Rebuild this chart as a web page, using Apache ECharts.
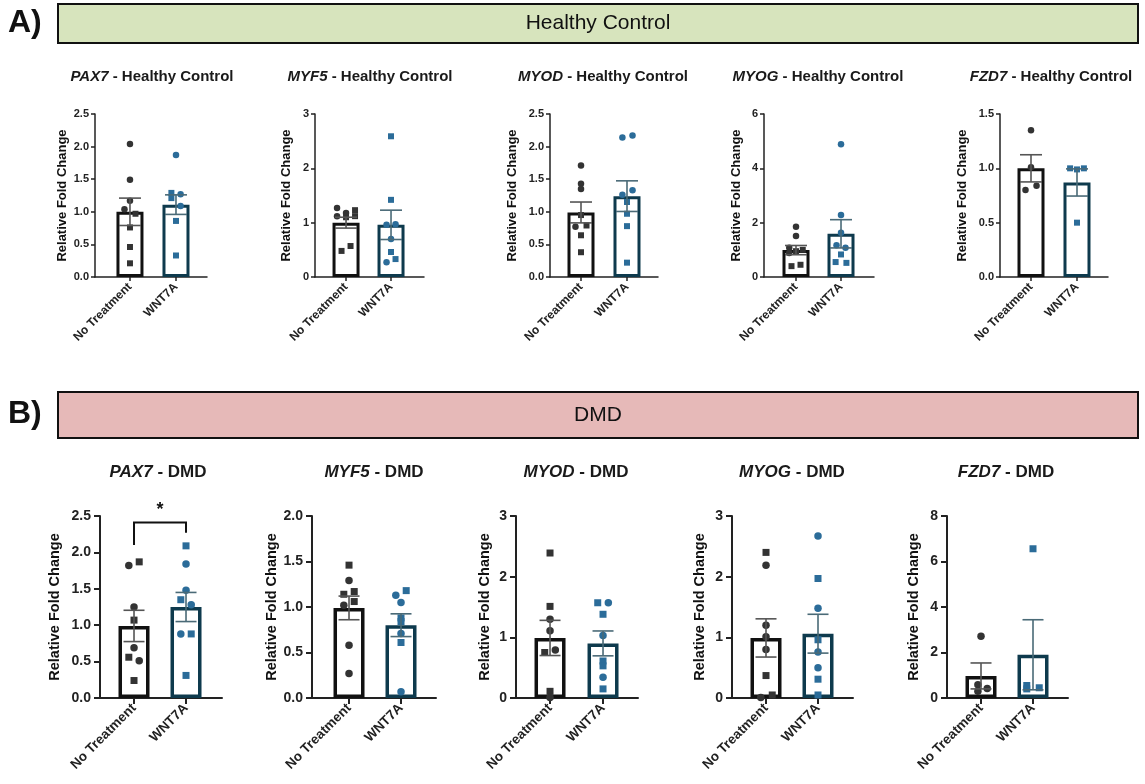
<!DOCTYPE html>
<html><head><meta charset="utf-8">
<script src="https://cdn.jsdelivr.net/npm/echarts@6/dist/echarts.min.js"></script>
<style>html,body{margin:0;padding:0;background:#fff}#c{width:1145px;height:784px}</style>
</head><body><div id="c"></div>
<script>
// ---------------- DATA ----------------
const categories = ['No Treatment', 'WNT7A'];
const genes = ['PAX7', 'MYF5', 'MYOD', 'MYOG', 'FZD7'];
const conditions = ['Healthy Control', 'DMD'];
const sectionLabels = ['A)', 'B)'];

// bar heights (mean) and SEM per gene: [No Treatment, WNT7A]
const hcMean  = [[1.00, 1.11], [1.00, 0.96], [0.99, 1.24], [0.99, 1.59], [1.00, 0.87]];
const hcSem   = [[0.21, 0.15], [0.10, 0.27], [0.16, 0.235], [0.17, 0.52], [0.125, 0.125]];
const dmdMean = [[0.99, 1.25], [0.99, 0.80], [0.99, 0.90], [0.99, 1.06], [0.97, 1.90]];
const dmdSem  = [[0.215, 0.20], [0.13, 0.125], [0.29, 0.205], [0.315, 0.32], [0.57, 1.54]];

// individual replicates per gene
const hcNoTreatment = [
  [2.04, 1.49, 1.17, 1.04, 0.97, 0.76, 0.46, 0.21],
  [1.27, 1.23, 1.18, 1.12, 1.12, 1.10, 0.57, 0.48],
  [1.71, 1.43, 1.35, 0.95, 0.77, 0.79, 0.64, 0.38],
  [1.85, 1.51, 1.08, 1.00, 0.95, 0.88, 0.45, 0.40],
  [1.35, 1.01, 0.84, 0.80]
];
const hcWnt7a = [
  [1.87, 1.29, 1.27, 1.21, 1.09, 0.86, 0.33],
  [2.59, 1.42, 0.97, 0.96, 0.70, 0.46, 0.33, 0.27],
  [2.17, 2.14, 1.33, 1.26, 1.15, 0.97, 0.78, 0.22],
  [4.89, 2.28, 1.63, 1.17, 1.08, 0.83, 0.55, 0.52],
  [1.00, 0.99, 1.00, 0.50]
];
const dmdNoTreatment = [
  [1.82, 1.87, 1.25, 1.07, 0.69, 0.56, 0.51, 0.24],
  [1.46, 1.29, 1.17, 1.14, 1.06, 1.02, 0.58, 0.27],
  [2.39, 1.51, 1.30, 1.11, 0.79, 0.75, 0.11, 0.01],
  [2.40, 2.19, 1.20, 1.01, 0.80, 0.37, 0.05, 0.01],
  [2.71, 0.58, 0.42, 0.30]
];
const dmdWnt7a = [
  [2.09, 1.84, 1.48, 1.35, 1.28, 0.88, 0.88, 0.31],
  [1.18, 1.13, 1.05, 0.88, 0.84, 0.71, 0.61, 0.07],
  [1.57, 1.57, 1.38, 1.03, 0.61, 0.53, 0.34, 0.15],
  [2.67, 1.97, 1.48, 0.96, 0.76, 0.50, 0.31, 0.05],
  [6.56, 0.55, 0.40, 0.45]
];
// marker shape per replicate: c = circle, s = square
const hcNoTreatmentShape  = ['ccccssss', 'csccssss', 'cccscsss', 'cccsscss', 'cccc'];
const hcWnt7aShape        = ['cscscss', 'sscccssc', 'ccccssss', 'cccccsss', 'ssss'];
const dmdNoTreatmentShape = ['cscscscs', 'scsssccc', 'sscccssc', 'sccccssc', 'cccc'];
const dmdWnt7aShape       = ['sccsccss', 'sccsscsc', 'scscsscs', 'cscsccss', 'ssss'];
// horizontal scatter (jitter) of replicates, in category units
const hcNoTreatmentJitter = [
  [0, 0, 0, -0.12, 0.12, 0, 0, 0], [-0.2, 0.2, 0, -0.2, 0.2, 0, 0.1, -0.1],
  [0, 0, 0, 0, -0.12, 0.12, 0, 0], [0, 0, -0.15, 0.15, 0, -0.15, 0.1, -0.1], [0, 0, 0.12, -0.12]
];
const hcWnt7aJitter = [
  [0, -0.1, 0.1, -0.1, 0.1, 0, 0], [0, 0, 0.1, -0.1, 0, 0, 0.1, -0.1],
  [0.12, -0.1, 0.12, -0.1, 0, 0, 0, 0], [0, 0, 0, -0.1, 0.1, 0, -0.12, 0.12], [-0.15, 0, 0.15, 0]
];
const dmdNoTreatmentJitter = [
  [-0.1, 0.1, 0, 0, 0, -0.1, 0.1, 0], [0, 0, 0.1, -0.1, 0.1, -0.1, 0, 0],
  [0, 0, 0, 0, 0.1, -0.1, 0, 0], [0, 0, 0, 0, 0, 0, 0.12, -0.1], [0, -0.06, 0.12, -0.06]
];
const dmdWnt7aJitter = [
  [0, 0, 0, -0.1, 0.1, -0.1, 0.1, 0], [0.1, -0.1, 0, 0, 0, 0, 0, 0],
  [-0.1, 0.1, 0, 0, 0, 0, 0, 0], [0, 0, 0, 0, 0, 0, 0, 0], [0, -0.12, -0.12, 0.12]
];
// y axis ticks
const hcYMax  = [2.5, 3, 2.5, 6, 1.5];
const hcYStep = [0.5, 1, 0.5, 2, 0.5];
const dmdYMax  = [2.5, 2.0, 3, 3, 8];
const dmdYStep = [0.5, 0.5, 1, 1, 2];
// significance bracket: [row, gene, fromCat, toCat, bracketTop, leftLegEnd, rightLegEnd]
const sigBrackets = [[1, 0, 0, 1, 2.41, 2.10, 2.27]];
const sigLabels = ['*'];

// ---------------- LAYOUT / STYLE ----------------
const rows = [
  { top: 114, height: 163, barWidth: 27, border: 3, axisW: 1.5, tickLen: 4, tickFont: 11, xFont: 12,
    nameFont: 13, titleFont: 15, sym: 6.5, cap: 11, titleY: 77,
    lefts: [95, 315, 550, 764, 1000], widths: [112, 109, 108, 110, 108],
    xr: [[-0.76, 1.674], [-0.69, 1.733], [-0.674, 1.674], [-0.711, 1.733], [-0.674, 1.674]],
    nameGaps: [26, 22, 31, 21, 31], titleX: [152, 370, 603, 818, 1051], labelMargin: 6,
    mean: hcMean, sem: hcSem, nt: hcNoTreatment, wt: hcWnt7a, ntS: hcNoTreatmentShape, wtS: hcWnt7aShape,
    ntJ: hcNoTreatmentJitter, wtJ: hcWnt7aJitter, ymax: hcYMax, ystep: hcYStep,
    box: { y: 4, h: 39, fill: '#d7e4bd' }, secY: 23 },
  { top: 516, height: 182, barWidth: 31, border: 3.5, axisW: 2, tickLen: 6, tickFont: 14, xFont: 13.5,
    nameFont: 14.5, titleFont: 17, sym: 7.5, cap: 10.5, titleY: 472,
    lefts: [100, 312, 516, 732, 947], widths: [122, 124, 122, 121, 121],
    xr: [[-0.654, 1.692], [-0.712, 1.673], [-0.642, 1.66], [-0.654, 1.673], [-0.654, 1.673]],
    nameGaps: [38, 30, 24, 25, 26], titleX: [158, 374, 576, 792, 1006], labelMargin: 9,
    mean: dmdMean, sem: dmdSem, nt: dmdNoTreatment, wt: dmdWnt7a, ntS: dmdNoTreatmentShape, wtS: dmdWnt7aShape,
    ntJ: dmdNoTreatmentJitter, wtJ: dmdWnt7aJitter, ymax: dmdYMax, ystep: dmdYStep,
    box: { y: 392, h: 46, fill: '#e6b9b8' }, secY: 414 }
];
const FONT = "'Liberation Sans', Arial, sans-serif";
const ntBorder = '#111111', wtBorder = '#0e3a4d';
const ntDot = '#333333', wtDot = '#2b6c99';
const ntErr = '#555555', wtErr = '#4a6a77';
const axisColor = '#222';

const grid = [], xAxis = [], yAxis = [], series = [], graphic = [];

function errRender(capHalf, lw) {
  return function (params, api) {
    const x = api.value(0), lo = api.value(1), hi = api.value(2);
    const a = api.coord([x, lo]), b = api.coord([x, hi]);
    const st = { stroke: params.dataIndex === 0 ? ntErr : wtErr, lineWidth: lw };
    return { type: 'group', children: [
      { type: 'line', shape: { x1: a[0], y1: a[1], x2: b[0], y2: b[1] }, style: st },
      { type: 'line', shape: { x1: a[0] - capHalf, y1: a[1], x2: a[0] + capHalf, y2: a[1] }, style: st },
      { type: 'line', shape: { x1: b[0] - capHalf, y1: b[1], x2: b[0] + capHalf, y2: b[1] }, style: st }
    ]};
  };
}

rows.forEach((R, r) => {
  // section header
  graphic.push({ type: 'rect', shape: { x: 58, y: R.box.y, width: 1080, height: R.box.h },
    style: { fill: R.box.fill, stroke: '#111', lineWidth: 2 }, z: 10 });
  graphic.push({ type: 'text', x: 598, y: R.box.y + R.box.h / 2, z: 11,
    style: { text: conditions[r], font: '21px ' + FONT, fill: '#111', align: 'center', verticalAlign: 'middle' } });
  graphic.push({ type: 'text', x: 8, y: R.secY, z: 11,
    style: { text: sectionLabels[r], font: 'bold 32px ' + FONT, fill: '#111', align: 'left', verticalAlign: 'middle' } });

  genes.forEach((g, k) => {
    const i = grid.length;
    grid.push({ left: R.lefts[k], top: R.top, width: R.widths[k], height: R.height, containLabel: false });
    const dec = R.ystep[k] < 1;
    xAxis.push({
      type: 'value', gridIndex: i, min: R.xr[k][0], max: R.xr[k][1],
      splitLine: { show: false },
      axisLine: { show: true, onZero: false, lineStyle: { color: axisColor, width: R.axisW } },
      axisTick: { show: true, customValues: [0, 1], length: R.tickLen, lineStyle: { color: axisColor, width: R.axisW } },
      axisLabel: { customValues: [0, 1], formatter: v => categories[Math.round(v)], rotate: 45,
        fontFamily: FONT, fontWeight: 'bold', fontSize: R.xFont, color: '#222', margin: 8 }
    });
    yAxis.push({
      type: 'value', gridIndex: i, min: 0, max: R.ymax[k], interval: R.ystep[k],
      splitLine: { show: false },
      axisLine: { show: true, onZero: false, lineStyle: { color: axisColor, width: R.axisW } },
      axisTick: { show: true, length: R.tickLen, lineStyle: { color: axisColor, width: R.axisW } },
      axisLabel: { formatter: v => dec ? v.toFixed(1) : String(v), fontFamily: FONT, fontWeight: 'bold',
        fontSize: R.tickFont, color: '#222', margin: R.labelMargin },
      name: 'Relative Fold Change', nameLocation: 'middle', nameGap: R.nameGaps[k],
      nameTextStyle: { fontFamily: FONT, fontWeight: 'bold', fontSize: R.nameFont, color: '#111' }
    });
    // title
    graphic.push({ type: 'text', x: R.titleX[k], y: R.titleY, z: 11,
      style: { text: '{g|' + g + '}{t| - ' + conditions[r] + '}', align: 'center', verticalAlign: 'middle',
        rich: { g: { fontFamily: FONT, fontWeight: 'bold', fontStyle: 'italic', fontSize: R.titleFont, fill: '#1a1a1a' },
                t: { fontFamily: FONT, fontWeight: 'bold', fontSize: R.titleFont, fill: '#1a1a1a' } } } });

    const m = R.mean[k], s = R.sem[k];
    series.push({
      type: 'bar', xAxisIndex: i, yAxisIndex: i, barWidth: R.barWidth, z: 2,
      itemStyle: { color: '#fff', borderWidth: R.border },
      data: [
        { value: [0, m[0]], itemStyle: { borderColor: ntBorder } },
        { value: [1, m[1]], itemStyle: { borderColor: wtBorder } }
      ]
    });
    const mk = (vals, shapes, jit, base) => vals.map((v, j) => ({
      value: [base + jit[j], v], symbol: shapes[j] === 's' ? 'rect' : 'circle',
      symbolSize: shapes[j] === 's' ? R.sym - 0.5 : R.sym
    }));
    series.push({ type: 'scatter', xAxisIndex: i, yAxisIndex: i, z: 3, itemStyle: { color: ntDot, opacity: 1 },
      data: mk(R.nt[k], R.ntS[k], R.ntJ[k], 0) });
    series.push({ type: 'scatter', xAxisIndex: i, yAxisIndex: i, z: 3, itemStyle: { color: wtDot, opacity: 1 },
      data: mk(R.wt[k], R.wtS[k], R.wtJ[k], 1) });
    series.push({ type: 'custom', xAxisIndex: i, yAxisIndex: i, z: 4, clip: false,
      encode: { x: 0, y: [1, 2] }, renderItem: errRender(R.cap, 1.6),
      data: [[0, m[0] - s[0], m[0] + s[0]], [1, m[1] - s[1], m[1] + s[1]]] });

    sigBrackets.forEach((b, bi) => {
      if (b[0] !== r || b[1] !== k) return;
      series.push({ type: 'custom', xAxisIndex: i, yAxisIndex: i, z: 5, clip: false,
        encode: { x: [0, 1], y: [2, 3, 4] },
        renderItem: (params, api) => {
          const pL = api.coord([api.value(0), api.value(3)]);
          const pR = api.coord([api.value(1), api.value(4)]);
          const tL = api.coord([api.value(0), api.value(2)]);
          const tR = api.coord([api.value(1), api.value(2)]);
          return { type: 'group', children: [
            { type: 'polyline', shape: { points: [pL, tL, tR, pR] }, style: { stroke: '#111', lineWidth: 2, fill: null } },
            { type: 'text', x: (tL[0] + tR[0]) / 2, y: tL[1] - 4,
              style: { text: sigLabels[bi], font: 'bold 18px ' + FONT, fill: '#111', align: 'center', verticalAlign: 'bottom' } }
          ]};
        },
        data: [[b[2], b[3], b[4], b[5], b[6]]] });
    });
  });
});

const chart = echarts.init(document.getElementById('c'), null, { renderer: 'canvas' });
chart.setOption({ backgroundColor: '#fff', animation: false, grid, xAxis, yAxis, series, graphic });
</script></body></html>
